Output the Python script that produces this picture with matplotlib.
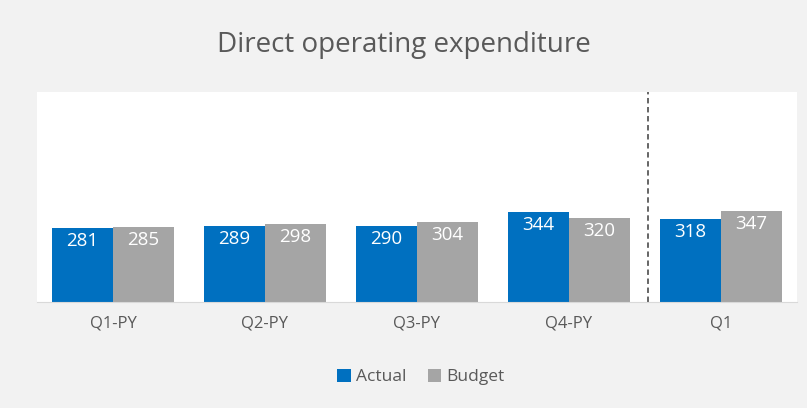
import numpy as np
import matplotlib.pyplot as plt

categories = ["Q1-PY", "Q2-PY", "Q3-PY", "Q4-PY", "Q1"]
actual = [281, 289, 290, 344, 318]
budget = [285, 298, 304, 320, 347]

BLUE = "#0070C0"
GREY = "#A5A5A5"
TEXT = "#595959"

plt.rcParams["font.family"] = ["Open Sans", "DejaVu Sans"]

fig = plt.figure(figsize=(8.07, 4.08), dpi=100, facecolor="#F2F2F2")
ax = fig.add_axes([37 / 807, 1 - 302 / 408, 760 / 807, 210 / 408])
ax.set_facecolor("white")

x = np.arange(len(categories))
w = 0.4
b1 = ax.bar(x - w / 2, actual, w, color=BLUE, label="Actual")
b2 = ax.bar(x + w / 2, budget, w, color=GREY, label="Budget")

for bars in (b1, b2):
    for rect in bars:
        ax.annotate(f"{rect.get_height():.0f}",
                    (rect.get_x() + rect.get_width() / 2, rect.get_height()),
                    xytext=(0, -3), textcoords="offset points",
                    ha="center", va="top", color="white", fontsize=13.5)

# separator between prior year and current
ax.axvline(3.52, color="#595959", linestyle=(0, (3, 2)), linewidth=1.3)

ax.set_xlim(-0.5, len(categories) - 0.5)
ax.set_ylim(0, 800)
ax.set_yticks([])
ax.set_xticks(x)
ax.set_xticklabels(categories, fontsize=12, color=TEXT)
ax.tick_params(axis="x", length=0, pad=10)
for s in ("top", "left", "right"):
    ax.spines[s].set_visible(False)
ax.spines["bottom"].set_color("#D9D9D9")

fig.suptitle("Direct operating expenditure", y=1 - 45 / 408, va="center",
             fontsize=20, color=TEXT)
fig.legend(loc="center", bbox_to_anchor=(421 / 807, 1 - 377 / 408), ncol=2,
           frameon=False, fontsize=12.5, labelcolor=TEXT, handlelength=0.8,
           handleheight=0.8, handletextpad=0.3, columnspacing=1.2)

fig.savefig("out.png", dpi=100, facecolor=fig.get_facecolor())
